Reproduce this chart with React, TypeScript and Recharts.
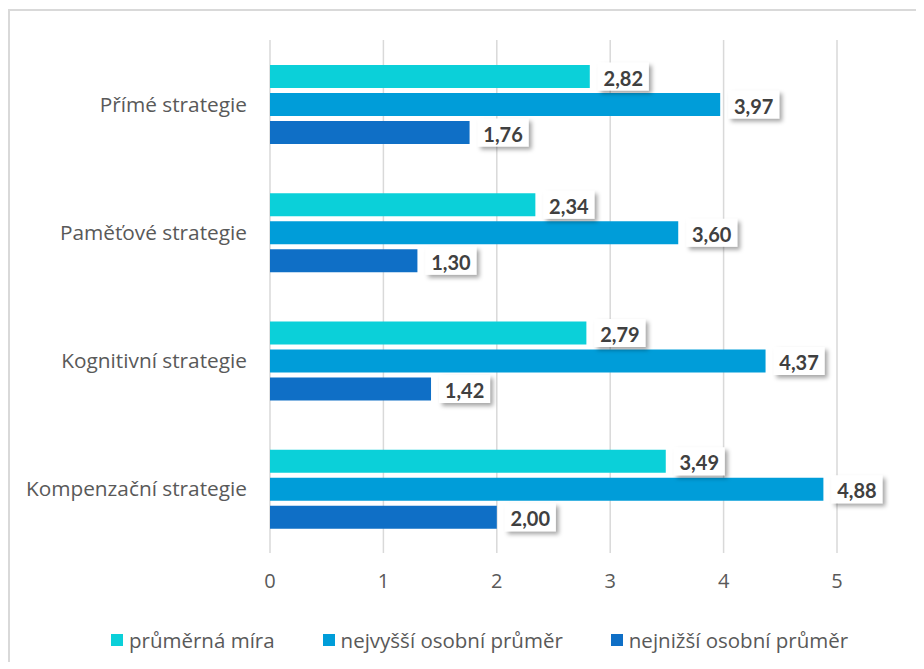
import React from 'react';
import {
  BarChart,
  Bar,
  XAxis,
  YAxis,
  CartesianGrid,
  Legend,
  LabelList,
} from 'recharts';

const categories = [
  'Přímé strategie',
  'Paměťové strategie',
  'Kognitivní strategie',
  'Kompenzační strategie',
];
const prumernaMira = [2.82, 2.34, 2.79, 3.49];
const nejvyssiPrumer = [3.97, 3.6, 4.37, 4.88];
const nejnizsiPrumer = [1.76, 1.3, 1.42, 2.0];
const seriesNames = ['průměrná míra', 'nejvyšší osobní průměr', 'nejnižší osobní průměr'];
const xTicks = [0, 1, 2, 3, 4, 5];

const COLORS = ['#0BD0D9', '#009DD9', '#0F6FC6'];
const FONT = '"Open Sans", "Noto Sans", sans-serif';
const LABEL_FONT = 'Lato, "Open Sans", sans-serif';
const GREY = '#595959';

const chartData = categories.map((name, i) => ({
  name,
  a: prumernaMira[i],
  b: nejvyssiPrumer[i],
  c: nejnizsiPrumer[i],
}));

const fmt = (v: number) => v.toFixed(2).replace('.', ',');

const ValueLabel = (props: any) => {
  const { x, y, width, height, value } = props;
  const bx = x + width + 8;
  const cy = y + height / 2;
  return (
    <g>
      <rect x={bx} y={cy - 14} width={51} height={28} fill="#fff" filter="url(#lblShadow)" />
      <text
        x={bx + 25.5}
        y={cy + 1}
        textAnchor="middle"
        dominantBaseline="central"
        fontFamily={LABEL_FONT}
        fontWeight={700}
        fontSize={20}
        fill="#404040"
      >
        {fmt(value)}
      </text>
    </g>
  );
};

const renderLegend = () => (
  <div
    style={{
      display: 'flex',
      alignItems: 'center',
      paddingLeft: 103,
      height: 50,
      paddingTop: 8,
      boxSizing: 'border-box',
      fontFamily: FONT,
      fontSize: 20.5,
      color: GREY,
      whiteSpace: 'nowrap',
    }}
  >
    {seriesNames.map((n, i) => (
      <div key={n} style={{ display: 'flex', alignItems: 'center', marginRight: 48 }}>
        <span style={{ width: 12, height: 12, background: COLORS[i], display: 'inline-block', marginRight: 6 }} />
        <span>{n}</span>
      </div>
    ))}
  </div>
);

export default function App() {
  const keys = ['a', 'b', 'c'];
  return (
    <div style={{ position: 'relative', width: 908, height: 653, borderLeft: '2px solid #d9d9d9', borderTop: '2px solid #d9d9d9', boxSizing: 'border-box', marginTop: 1 }}>
      <div style={{ position: 'absolute', left: -2, top: -3 }}>
        <BarChart
          width={908}
          height={653}
          data={chartData}
          layout="vertical"
          margin={{ top: 32, right: 79, left: 0, bottom: 0 }}
          barSize={23}
          barGap={5}
        >
          <defs>
            <filter id="lblShadow" x="-30%" y="-30%" width="160%" height="170%">
              <feDropShadow dx={3} dy={3} stdDeviation={2} floodColor="#000" floodOpacity={0.35} />
            </filter>
          </defs>
          <CartesianGrid horizontal={false} stroke="#d9d9d9" strokeWidth={1.5} />
          <XAxis
            type="number"
            domain={[0, 5]}
            ticks={xTicks}
            axisLine={false}
            tickLine={false}
            tickSize={0}
            tickMargin={21}
            height={58}
            tick={{ fill: GREY, fontSize: 20, fontFamily: FONT }}
          />
          <YAxis
            type="category"
            dataKey="name"
            width={262}
            axisLine={false}
            tickLine={false}
            tickSize={0}
            tickMargin={23}
            tick={{ fill: GREY, fontSize: 20.8, fontFamily: FONT }}
          />
          <Legend verticalAlign="bottom" height={50} content={renderLegend} />
          {keys.map((k, i) => (
            <Bar key={k} dataKey={k} name={seriesNames[i]} fill={COLORS[i]} isAnimationActive={false}>
              <LabelList dataKey={k} content={ValueLabel} />
            </Bar>
          ))}
        </BarChart>
      </div>
    </div>
  );
}
